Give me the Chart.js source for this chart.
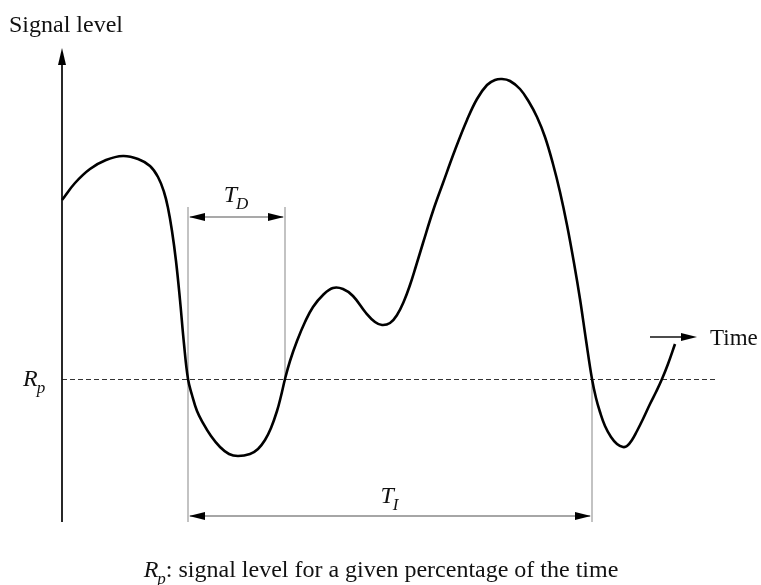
<!DOCTYPE html>
<html>
<head>
<meta charset="utf-8">
<script src="https://cdn.jsdelivr.net/npm/chart.js@4/dist/chart.umd.min.js"></script>
<style>
  html, body { margin: 0; padding: 0; background: #fff; }
  #wrap { width: 761px; height: 585px; }
</style>
</head>
<body>
<div id="wrap"><canvas id="c" width="761" height="585"></canvas></div>
<script>
// Schematic signal (arbitrary units): time and signal level, Rp level = 0
const signalTime  = [0, 13, 28, 44, 61, 76, 88, 96, 102, 106, 110, 114, 118, 122, 126, 130, 135, 141, 149, 158, 167, 176, 188, 196, 203, 209, 215, 219, 223, 228, 235, 243, 251, 261, 271, 281, 291, 304, 313, 320, 328, 335, 342, 348, 354, 361, 371, 381, 393, 405, 415, 425, 433, 440, 448, 458, 467, 475, 483, 491, 498, 505, 512, 518, 524, 530, 534, 538, 543, 549, 555, 561, 565, 570, 575, 581, 588, 594, 600, 606, 613];
const signalLevel = [179, 196, 210, 219, 223, 220, 213, 202, 187, 171, 148, 118, 79, 35, 0, -16, -32, -44, -57, -68, -75, -77, -75, -70, -61, -49, -32, -17, 0, 18, 38, 57, 72, 84, 91, 90, 83, 66, 57, 54, 56, 64, 78, 94, 113, 136, 168, 196, 229, 259, 280, 294, 299, 300, 298, 290, 277, 262, 242, 215, 187, 154, 116, 80, 39, 0, -19, -33, -47, -58, -65, -68, -67, -61, -52, -40, -25, -13, 0, 15, 35];
const rpLevel = 0;
const crossingTimes = [126, 223, 530]; // fade start, fade end, next fade start
const labels = {
  yAxis: 'Signal level',
  xAxis: 'Time',
  caption: ': signal level for a given percentage of the time'
};

const points = signalTime.map((t, i) => ({ x: t, y: signalLevel[i] }));
const SERIF = '"Liberation Serif", "Times New Roman", serif';

function arrowHead(ctx, x, y, dir, len, half) {
  ctx.beginPath();
  if (dir === 'right') { ctx.moveTo(x, y); ctx.lineTo(x - len, y - half); ctx.lineTo(x - len, y + half); }
  else if (dir === 'left') { ctx.moveTo(x, y); ctx.lineTo(x + len, y - half); ctx.lineTo(x + len, y + half); }
  else { ctx.moveTo(x, y); ctx.lineTo(x - half, y + len); ctx.lineTo(x + half, y + len); }
  ctx.closePath();
  ctx.fill();
}

function subText(ctx, main, sub, x, y, size, align) {
  const subSize = Math.round(size * 0.72);
  ctx.font = 'italic ' + size + 'px ' + SERIF;
  const w1 = ctx.measureText(main).width;
  ctx.font = 'italic ' + subSize + 'px ' + SERIF;
  const w2 = ctx.measureText(sub).width;
  const x0 = align === 'center' ? x - (w1 + w2) / 2 : x;
  ctx.textAlign = 'left';
  ctx.textBaseline = 'alphabetic';
  ctx.font = 'italic ' + size + 'px ' + SERIF;
  ctx.fillText(main, x0, y);
  ctx.font = 'italic ' + subSize + 'px ' + SERIF;
  ctx.fillText(sub, x0 + w1 - 1, y + size * 0.28);
  return x0 + w1 - 1 + w2;
}

const decor = {
  id: 'decor',
  beforeDatasetsDraw(chart) {
    const ctx = chart.ctx;
    const xs = chart.scales.x, ys = chart.scales.y;
    const px = v => xs.getPixelForValue(v);
    const py = v => ys.getPixelForValue(v);
    ctx.save();

    // Rp dashed line
    ctx.strokeStyle = '#333';
    ctx.lineWidth = 1;
    ctx.setLineDash([5, 3]);
    ctx.beginPath();
    ctx.moveTo(px(0), py(rpLevel) + 0.5);
    ctx.lineTo(px(655), py(rpLevel) + 0.5);
    ctx.stroke();
    ctx.setLineDash([]);

    // gray vertical markers
    ctx.strokeStyle = '#b0b0b0';
    ctx.lineWidth = 1.5;
    const topLv = 172, botLv = -143;
    ctx.beginPath();
    ctx.moveTo(px(crossingTimes[0]), py(topLv)); ctx.lineTo(px(crossingTimes[0]), py(botLv));
    ctx.moveTo(px(crossingTimes[1]), py(topLv)); ctx.lineTo(px(crossingTimes[1]), py(rpLevel));
    ctx.moveTo(px(crossingTimes[2]), py(rpLevel)); ctx.lineTo(px(crossingTimes[2]), py(botLv));
    ctx.stroke();

    // T_D double arrow
    const yD = py(162);
    ctx.strokeStyle = '#555';
    ctx.lineWidth = 1.2;
    ctx.beginPath();
    ctx.moveTo(px(crossingTimes[0]) + 2, yD); ctx.lineTo(px(crossingTimes[1]) - 2, yD);
    ctx.stroke();
    ctx.fillStyle = '#000';
    arrowHead(ctx, px(crossingTimes[0]) + 1, yD, 'left', 16, 4);
    arrowHead(ctx, px(crossingTimes[1]) - 1, yD, 'right', 16, 4);

    // T_I double arrow
    const yI = py(-137);
    ctx.strokeStyle = '#888';
    ctx.lineWidth = 1.5;
    ctx.beginPath();
    ctx.moveTo(px(crossingTimes[0]) + 2, yI); ctx.lineTo(px(crossingTimes[2]) - 2, yI);
    ctx.stroke();
    arrowHead(ctx, px(crossingTimes[0]) + 1, yI, 'left', 16, 4);
    arrowHead(ctx, px(crossingTimes[2]) - 1, yI, 'right', 16, 4);

    // Y axis with arrow
    ctx.strokeStyle = '#111';
    ctx.lineWidth = 1.8;
    ctx.beginPath();
    ctx.moveTo(px(0), py(-143)); ctx.lineTo(px(0), py(318));
    ctx.stroke();
    ctx.fillStyle = '#000';
    arrowHead(ctx, px(0), py(331), 'up', 17, 4);

    // Time arrow
    const yT = py(42);
    ctx.strokeStyle = '#111';
    ctx.lineWidth = 1.5;
    ctx.beginPath();
    ctx.moveTo(px(588), yT); ctx.lineTo(px(622), yT);
    ctx.stroke();
    arrowHead(ctx, px(635), yT, 'right', 16, 4);

    // texts
    ctx.fillStyle = '#111';
    ctx.font = '24px ' + SERIF;
    ctx.textAlign = 'left';
    ctx.textBaseline = 'alphabetic';
    ctx.fillText(labels.yAxis, 9, 32);
    ctx.font = '23px ' + SERIF;
    ctx.fillText(labels.xAxis, 710, 345);

    subText(ctx, 'R', 'p', 23, 386, 24, 'left');
    subText(ctx, 'T', 'D', (px(crossingTimes[0]) + px(crossingTimes[1])) / 2, 202, 24, 'center');
    subText(ctx, 'T', 'I', (px(crossingTimes[0]) + px(crossingTimes[2])) / 2, 503, 24, 'center');

    // caption
    ctx.font = '24px ' + SERIF;
    const capW = ctx.measureText(labels.caption).width;
    ctx.font = 'italic 24px ' + SERIF;
    const rW = ctx.measureText('R').width;
    ctx.font = 'italic 17px ' + SERIF;
    const pW = ctx.measureText('p').width;
    const total = rW + pW - 1 + capW;
    const startX = 381 - total / 2;
    const endX = subText(ctx, 'R', 'p', startX, 577, 24, 'left');
    ctx.font = '24px ' + SERIF;
    ctx.fillText(labels.caption, endX, 577);

    ctx.restore();
  }
};

new Chart(document.getElementById('c'), {
  type: 'line',
  data: {
    datasets: [{
      data: points,
      borderColor: '#000',
      borderWidth: 2.6,
      pointRadius: 0,
      fill: false,
      tension: 0.4
    }]
  },
  options: {
    responsive: false,
    animation: false,
    events: [],
    layout: { padding: 0 },
    plugins: { legend: { display: false }, tooltip: { enabled: false } },
    scales: {
      x: { type: 'linear', display: false, min: -62, max: 699 },
      y: { type: 'linear', display: false, min: -206, max: 379 }
    }
  },
  plugins: [decor]
});
</script>
</body>
</html>
